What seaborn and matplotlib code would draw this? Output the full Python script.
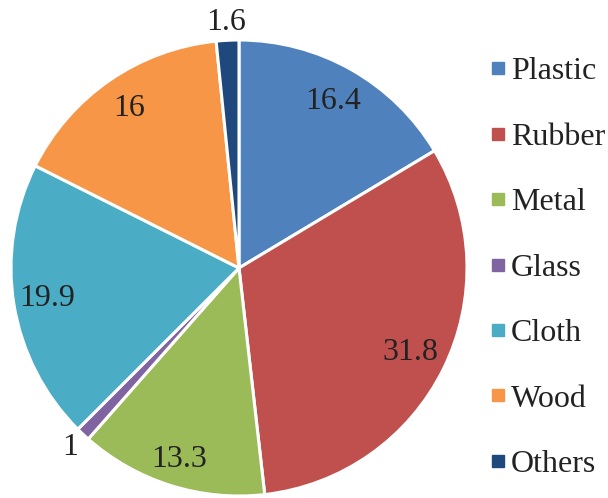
import numpy as np
import matplotlib
matplotlib.use("Agg")
import matplotlib.pyplot as plt
import seaborn as sns
from matplotlib.lines import Line2D

# data
categories = ["Plastic", "Rubber", "Metal", "Glass", "Cloth", "Wood", "Others"]
values = [16.4, 31.8, 13.3, 1, 19.9, 16, 1.6]
value_labels = ["16.4", "31.8", "13.3", "1", "19.9", "16", "1.6"]
colors = ["#4F81BD", "#C0504D", "#9BBB59", "#8064A2", "#4BACC6", "#F79646", "#1F497D"]
# radial position of each value label (fraction of radius)
label_radius = [0.84, 0.84, 0.88, 1.08, 0.85, 0.85, 1.08]

sns.set_theme(style="white")
plt.rcParams['font.family'] = ['Liberation Serif', 'DejaVu Serif']

palette = sns.color_palette(colors)

fig = plt.figure(figsize=(6.08, 4.98), dpi=100)
ax = fig.add_axes([10 / 608, 2 / 498, 458 / 608, 456 / 498])

wedges, _ = ax.pie(values, colors=palette, startangle=90, counterclock=False,
                   wedgeprops=dict(edgecolor="white", linewidth=2.2))

for w, txt, r in zip(wedges, value_labels, label_radius):
    ang = np.deg2rad((w.theta1 + w.theta2) / 2)
    ax.text(r * np.cos(ang), r * np.sin(ang), txt, ha="center", va="center",
            fontsize=23, color="#222222")

ax.set_xlim(-1, 1)
ax.set_ylim(-1, 1)
ax.set_aspect("equal")
ax.axis("off")

handles = [Line2D([0], [0], marker="s", linestyle="", markersize=8,
                  markerfacecolor=c, markeredgecolor=c) for c in palette]
fig.legend(handles, categories, loc="upper left", bbox_to_anchor=(492 / 608, 1 - 57 / 498),
           frameon=False, fontsize=23, labelspacing=1.13, handletextpad=0.2,
           handlelength=0.4, borderpad=0, borderaxespad=0, labelcolor="#222222")

fig.savefig("out.png", dpi=100)
